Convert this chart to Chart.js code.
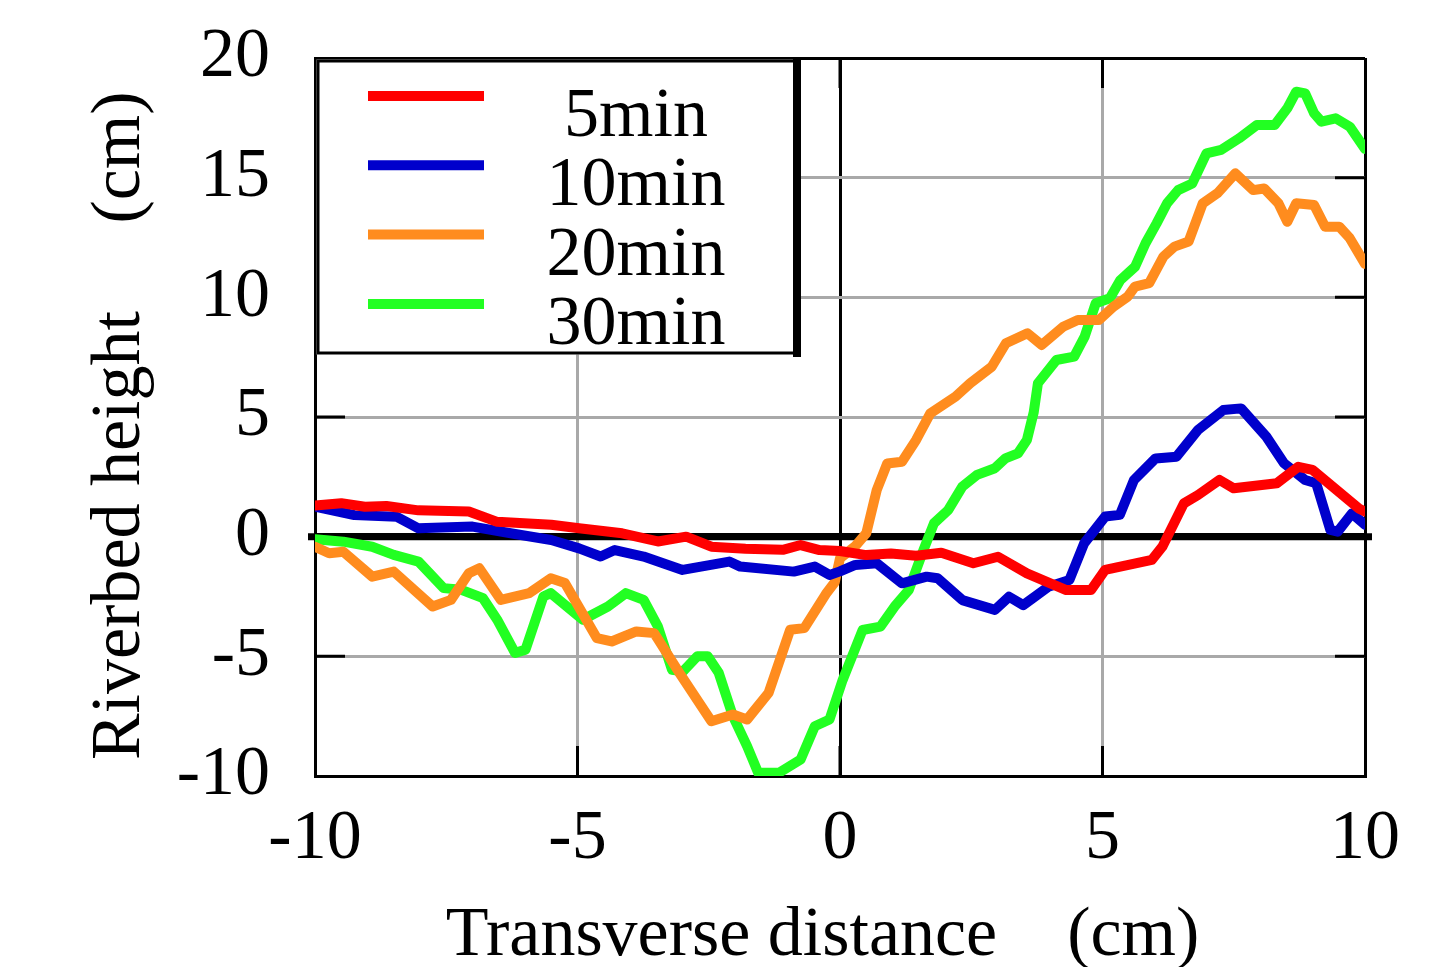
<!DOCTYPE html>
<html>
<head>
<meta charset="utf-8">
<title>Riverbed height</title>
<script src="https://cdn.jsdelivr.net/npm/chart.js@4.4.1/dist/chart.umd.min.js"></script>
<style>
  html, body { margin: 0; padding: 0; background: #fff; }
  #wrap { width: 1455px; height: 967px; }
</style>
</head>
<body>
<div id="wrap"><canvas id="chart"></canvas></div>
<script>
const seriesLabels = ['5min', '10min', '20min', '30min'];
const seriesColors = ['#ff0000', '#0000cc', '#ff8c1e', '#22ff22'];
const xTicks = [-10, -5, 0, 5, 10];
const yTicks = [-10, -5, 0, 5, 10, 15, 20];

// 5min
const x5 = [-10, -9.5, -9.05, -8.64, -8.03, -7.07, -6.53, -5.5, -4.97, -4.15, -3.47, -2.93, -2.45, -1.8, -1.09, -0.75, -0.39, 0, 0.5, 0.97,
  1.45, 1.93, 2.54, 3.01, 3.56, 4.31, 4.78, 5.05, 5.94, 6.14, 6.55, 6.82, 7.23, 7.5, 8.32, 8.73, 9.0, 9.88, 10];
const h5 = [1.3, 1.4, 1.25, 1.28, 1.1, 1.05, 0.62, 0.5, 0.35, 0.14, -0.2, 0, -0.42, -0.5, -0.55, -0.35, -0.56, -0.6, -0.77, -0.7,
  -0.8, -0.67, -1.11, -0.84, -1.53, -2.23, -2.23, -1.39, -0.97, -0.42, 1.39, 1.74, 2.37, 2.02, 2.23, 2.92, 2.79, 1.18, 1.05];

// 10min
const x10 = [-10, -9.25, -8.44, -8.03, -7.0, -6.19, -5.5, -4.97, -4.56, -4.29, -3.74, -3.0, -2.11, -1.9, -0.88, -0.48, -0.2, 0, 0.29, 0.7,
  1.18, 1.65, 1.86, 2.33, 2.95, 3.22, 3.49, 3.97, 4.37, 4.65, 5.05, 5.33, 5.6, 6.01, 6.41, 6.82, 7.3, 7.64, 8.12, 8.46,
  8.86, 9.07, 9.34, 9.48, 9.75, 10];
const h10 = [1.25, 0.9, 0.83, 0.35, 0.42, 0.11, -0.14, -0.49, -0.83, -0.56, -0.83, -1.39, -1.04, -1.25, -1.46, -1.25, -1.6, -1.45, -1.18, -1.11,
  -1.95, -1.67, -1.74, -2.65, -3.06, -2.51, -2.86, -2.09, -1.81, -0.28, 0.84, 0.91, 2.37, 3.27, 3.34, 4.46, 5.29, 5.36, 4.18, 3.06,
  2.37, 2.23, 0.28, 0.21, 0.97, 0.5];

// 20min
const x20 = [-10, -9.73, -9.46, -8.91, -8.5, -7.76, -7.41, -7.07, -6.87, -6.46, -5.92, -5.51, -5.24, -4.63, -4.35, -3.88, -3.54, -3.06, -2.45, -2.04,
  -1.77, -1.36, -0.95, -0.68, -0.27, -0.1, 0, 0.29, 0.5, 0.7, 0.9, 1.18, 1.45, 1.72, 2.2, 2.48, 2.89, 3.16, 3.57, 3.84,
  4.25, 4.53, 4.93, 5.21, 5.48, 5.62, 5.89, 6.16, 6.37, 6.64, 6.91, 7.19, 7.53, 7.87, 8.08, 8.35, 8.52, 8.69, 9.03, 9.24,
  9.51, 9.71, 10];
const h20 = [-0.42, -0.69, -0.63, -1.67, -1.46, -2.92, -2.64, -1.53, -1.32, -2.64, -2.36, -1.74, -1.94, -4.24, -4.38, -3.96, -4.03, -5.69, -7.71, -7.43,
  -7.64, -6.53, -3.89, -3.82, -2.4, -1.9, -0.9, -0.4, 0.14, 1.95, 3.06, 3.13, 4.04, 5.15, 5.85, 6.41, 7.1, 8.08, 8.5, 8.01,
  8.77, 9.05, 9.05, 9.61, 10.03, 10.45, 10.59, 11.7, 12.12, 12.33, 13.93, 14.35, 15.18, 14.48, 14.55, 13.93, 13.16, 13.93, 13.86, 12.95,
  12.95, 12.47, 11.4];

// 30min
const x30 = [-10, -9.46, -8.91, -8.5, -8.03, -7.55, -7.21, -6.8, -6.53, -6.19, -5.99, -5.65, -5.51, -4.9, -4.42, -4.08, -3.74, -3.47, -3.2, -2.99,
  -2.72, -2.52, -2.31, -2.04, -1.77, -1.56, -1.16, -0.75, -0.48, -0.2, 0.05, 0.43, 0.77, 1.04, 1.31, 1.59, 1.79, 2.06, 2.33, 2.61,
  2.95, 3.15, 3.39, 3.56, 3.69, 3.77, 4.12, 4.46, 4.66, 4.87, 5.14, 5.34, 5.62, 5.82, 6.03, 6.23, 6.44, 6.71, 6.98, 7.26,
  7.6, 7.94, 8.28, 8.52, 8.69, 8.86, 9.03, 9.17, 9.44, 9.71, 10];
const h30 = [-0.11, -0.21, -0.42, -0.76, -1.04, -2.15, -2.22, -2.57, -3.47, -4.86, -4.72, -2.5, -2.36, -3.47, -2.92, -2.36, -2.64, -3.75, -5.56, -5.63,
  -5.0, -5.0, -5.69, -7.5, -8.75, -9.86, -9.86, -9.31, -7.92, -7.64, -5.99, -3.9, -3.76, -2.92, -2.23, -0.56, 0.56, 1.11, 2.09, 2.58,
  2.86, 3.27, 3.48, 4.04, 5.2, 6.41, 7.38, 7.52, 8.36, 9.75, 9.96, 10.72, 11.28, 12.26, 13.09, 13.93, 14.48, 14.76, 16.02, 16.16,
  16.64, 17.2, 17.2, 17.9, 18.59, 18.52, 17.69, 17.34, 17.48, 17.13, 16.2];

const seriesX = [x5, x10, x20, x30];
const seriesH = [h5, h10, h20, h30];

const FONT = '"Liberation Serif", "Times New Roman", serif';
const GRID = '#a9a9a9';

// inner tick marks and the heavy zero line
const framePlugin = {
  id: 'frame',
  beforeDatasetsDraw(chart) {
    const { ctx, chartArea: a, scales: { x, y } } = chart;
    const len = 30;
    ctx.save();
    ctx.strokeStyle = '#000';
    ctx.lineWidth = 3;
    ctx.beginPath();
    yTicks.slice(1, -1).forEach(v => {
      const py = y.getPixelForValue(v);
      ctx.moveTo(a.left, py); ctx.lineTo(a.left + len, py);
      ctx.moveTo(a.right, py); ctx.lineTo(a.right - len, py);
    });
    xTicks.slice(1, -1).forEach(v => {
      const px = x.getPixelForValue(v);
      ctx.moveTo(px, a.top); ctx.lineTo(px, a.top + len);
      ctx.moveTo(px, a.bottom); ctx.lineTo(px, a.bottom - len);
    });
    ctx.stroke();
    const y0 = y.getPixelForValue(0);
    ctx.lineWidth = 7;
    ctx.beginPath();
    ctx.moveTo(a.left - 7, y0);
    ctx.lineTo(a.right + 7, y0);
    ctx.stroke();
    ctx.restore();
  }
};

// boxed legend in the upper left corner
const legendBox = {
  id: 'legendBox',
  afterDatasetsDraw(chart) {
    const { ctx, chartArea: a } = chart;
    const left = a.left, top = a.top, right = a.left + 482, bottom = a.top + 295;
    ctx.save();
    ctx.fillStyle = '#fff';
    ctx.fillRect(left + 1.5, top + 1.5, right - left, bottom - top);
    ctx.strokeStyle = '#000';
    ctx.lineWidth = 3;
    ctx.strokeRect(left + 3, top + 3, right - left - 3, bottom - top - 3);
    ctx.lineWidth = 8;
    ctx.beginPath();
    ctx.moveTo(right, top);
    ctx.lineTo(right, bottom + 4);
    ctx.stroke();
    ctx.font = '70px ' + FONT;
    ctx.textAlign = 'center';
    ctx.textBaseline = 'alphabetic';
    chart.data.datasets.forEach((ds, i) => {
      const ly = top + 38 + i * 69.3;
      ctx.strokeStyle = ds.borderColor;
      ctx.lineWidth = 10;
      ctx.lineCap = 'butt';
      ctx.beginPath();
      ctx.moveTo(left + 53, ly);
      ctx.lineTo(left + 169, ly);
      ctx.stroke();
      ctx.fillStyle = '#000';
      ctx.fillText(ds.label, left + 321, ly + 40);
    });
    ctx.restore();
  }
};

const datasets = seriesLabels.map((label, i) => ({
  label: label,
  data: seriesX[i].map((v, j) => ({ x: v, y: seriesH[i][j] })),
  borderColor: seriesColors[i],
  backgroundColor: seriesColors[i],
  borderWidth: 10,
  pointRadius: 0,
  tension: 0,
  borderJoinStyle: 'round',
  borderCapStyle: 'round',
  showLine: true
}));

new Chart(document.getElementById('chart'), {
  type: 'scatter',
  data: { datasets: datasets },
  options: {
    responsive: true,
    maintainAspectRatio: false,
    animation: false,
    layout: { padding: { left: 0, top: 58, right: 90, bottom: 0 } },
    plugins: {
      legend: { display: false },
      tooltip: { enabled: false }
    },
    scales: {
      x: {
        type: 'linear',
        min: -10,
        max: 10,
        afterFit(scale) {
          scale.height = 191;
          scale.paddingLeft = 0;
          scale.paddingRight = 0;
        },
        afterBuildTicks(scale) { scale.ticks = xTicks.map(v => ({ value: v })); },
        border: { display: true, color: '#000', width: 3 },
        grid: {
          drawTicks: false,
          lineWidth: 3,
          color: c => (c.tick.value === 0 || c.tick.value === 10) ? '#000' : GRID
        },
        ticks: {
          padding: 22,
          color: '#000',
          font: { family: FONT, size: 70 },
          maxRotation: 0,
          callback: v => String(v)
        },
        title: {
          display: true,
          text: 'Transverse distance    (cm)  ',
          color: '#000',
          font: { family: FONT, size: 70, lineHeight: 0.86 },
          padding: { top: 0, bottom: 0 }
        }
      },
      y: {
        min: -10,
        max: 20,
        afterFit(scale) {
          scale.width = 315;
          scale.paddingTop = 0;
          scale.paddingBottom = 0;
        },
        afterBuildTicks(scale) { scale.ticks = yTicks.map(v => ({ value: v })); },
        border: { display: true, color: '#000', width: 3 },
        grid: {
          drawTicks: false,
          lineWidth: c => c.tick.value === 0 ? 7 : 3,
          color: c => (c.tick.value === 0 || c.tick.value === 20) ? '#000' : GRID
        },
        ticks: {
          padding: 45,
          color: '#000',
          font: { family: FONT, size: 70 },
          callback: v => String(v)
        },
        title: {
          display: true,
          text: 'Riverbed height     (cm) ',
          color: '#000',
          font: { family: FONT, size: 70, lineHeight: 1 },
          padding: { top: 86, bottom: 0 }
        }
      }
    }
  },
  plugins: [framePlugin, legendBox]
});
</script>
</body>
</html>
